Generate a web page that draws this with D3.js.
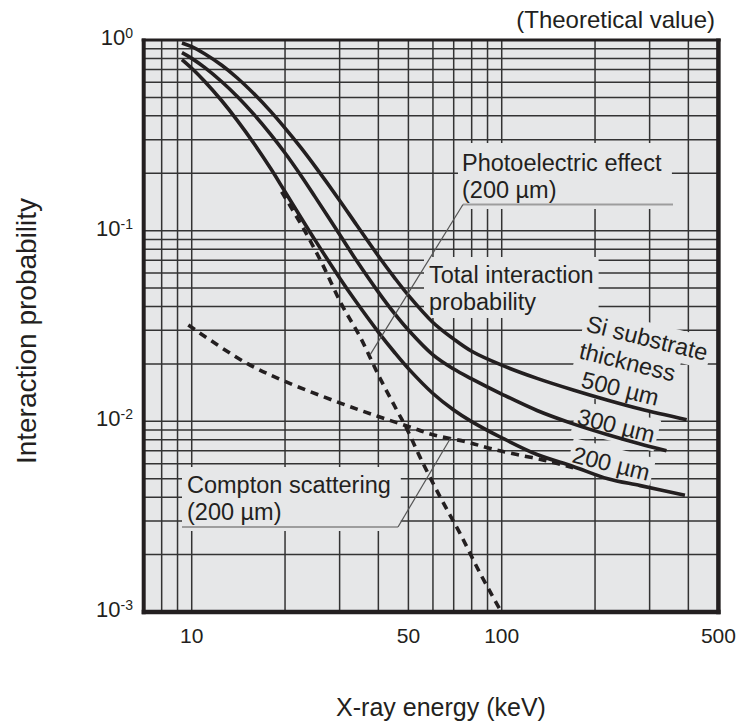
<!DOCTYPE html>
<html><head><meta charset="utf-8">
<script src="https://cdn.jsdelivr.net/npm/d3@7"></script>
<style>
body{margin:0;background:#fff;}
svg text{font-family:"Liberation Sans",Arial,sans-serif;fill:#231f20;}
</style></head><body>
<svg id="c" width="740" height="724"></svg>
<script>
// ---------- data ----------
const energy500 = [9.3, 10, 11, 12.5, 14, 16, 18, 20, 22.5, 25, 30, 34, 40, 45, 50, 60, 70, 80, 100, 130, 170, 220, 280, 395];
const prob500   = [0.965, 0.922, 0.847, 0.737, 0.634, 0.516, 0.421, 0.345, 0.2725, 0.2173, 0.1441, 0.1074, 0.0737, 0.0569, 0.0458, 0.033, 0.0270, 0.0233, 0.0197, 0.0168, 0.0146, 0.0129, 0.0116, 0.0102];
const energy300 = [9.3, 10, 11, 12.5, 14, 16, 18, 20, 22.5, 25, 30, 34, 40, 45, 50, 60, 70, 80, 100, 130, 170, 220, 280, 340];
const prob300   = [0.858, 0.801, 0.718, 0.604, 0.507, 0.401, 0.319, 0.2554, 0.1948, 0.1504, 0.0954, 0.0697, 0.0476, 0.0369, 0.0301, 0.0223, 0.0188, 0.0167, 0.0139, 0.0114, 0.0097, 0.0085, 0.0076, 0.0070];
const energy200 = [9.3, 10, 11, 12.5, 14, 16, 18, 20, 22.5, 25, 30, 34, 40, 45, 50, 60, 70, 80, 100, 130, 170, 220, 280, 390];
const prob200   = [0.79, 0.711, 0.608, 0.480, 0.380, 0.2815, 0.211, 0.160, 0.1173, 0.0892, 0.0565, 0.0421, 0.0294, 0.0231, 0.0189, 0.0140, 0.01147, 0.00997, 0.0082, 0.0067, 0.0058, 0.0050, 0.0046, 0.0041];
const energyPhoto = [19.5, 22.9, 26.3, 30.5, 34.9, 40, 45.8, 49.3, 54.4, 63.2, 73.3, 85.1, 98.7];
const probPhoto   = [0.16, 0.103, 0.0675, 0.0408, 0.0278, 0.0175, 0.0115, 0.0092, 0.00653, 0.00403, 0.00259, 0.0016, 0.00103];
const energyCompton = [9.75, 14.7, 20, 30, 40, 50, 60, 77, 92, 112, 140, 170];
const probCompton   = [0.032, 0.0206, 0.0162, 0.0125, 0.0106, 0.0094, 0.0085, 0.0078, 0.0072, 0.0067, 0.0062, 0.0057];
const xTickLabels = [10, 50, 100, 500];
const yTickExponents = [0, -1, -2, -3];
const thicknessLabels = ["500 µm", "300 µm", "200 µm"];

// ---------- layout ----------
const plot = {left: 143.7, right: 718.4, top: 40, bottom: 612};
const bg = "#e6e7e8", ink = "#231f20", gridColor = "#333333";
const x = d3.scaleLog().domain([7, 500]).range([plot.left, plot.right]);
const y = d3.scaleLog().domain([0.001, 1]).range([plot.bottom, plot.top]);
const svg = d3.select("#c");

const gBg = svg.append("g"), gGrid = svg.append("g"), gMask = svg.append("g"),
      gCurves = svg.append("g"), gText = svg.append("g"), gFrame = svg.append("g");

gBg.append("rect").attr("x", plot.left).attr("y", plot.top)
  .attr("width", plot.right - plot.left).attr("height", plot.bottom - plot.top).attr("fill", bg);

// grid lines from the scales' own ticks
const eps = 1e-9;
x.ticks().filter(v => v > 7 * (1 + eps) && v < 500 * (1 - eps)).forEach(v => {
  gGrid.append("line").attr("x1", x(v)).attr("x2", x(v)).attr("y1", plot.top).attr("y2", plot.bottom)
    .attr("stroke", gridColor).attr("stroke-width", 1.5);
});
y.ticks().filter(v => v > 0.001 * (1 + eps) && v < 1 * (1 - eps)).forEach(v => {
  gGrid.append("line").attr("y1", y(v)).attr("y2", y(v)).attr("x1", plot.left).attr("x2", plot.right)
    .attr("stroke", gridColor).attr("stroke-width", 1.5);
});

// clip
svg.append("defs").append("clipPath").attr("id", "clip").append("rect")
  .attr("x", plot.left).attr("y", plot.top).attr("width", plot.right - plot.left).attr("height", plot.bottom - plot.top);
gCurves.attr("clip-path", "url(#clip)");

const line = d3.line().x(d => x(d[0])).y(d => y(d[1])).curve(d3.curveCatmullRom.alpha(0.5));
function series(es, ps) { return es.map((e, i) => [e, ps[i]]); }

[[energyPhoto, probPhoto], [energyCompton, probCompton]].forEach(([e, p]) => {
  gCurves.append("path").attr("d", line(series(e, p))).attr("fill", "none")
    .attr("stroke", ink).attr("stroke-width", 3.6).attr("stroke-dasharray", "8,6");
});
[[energy500, prob500], [energy300, prob300], [energy200, prob200]].forEach(([e, p]) => {
  gCurves.append("path").attr("d", line(series(e, p))).attr("fill", "none")
    .attr("stroke", ink).attr("stroke-width", 3.6).attr("stroke-linecap", "butt");
});

// ---------- annotations ----------
const noteFS = 23.5;
function note(lines, x0, y0, lh, padL, padR, padT, padB) {
  const g = gText.append("g");
  lines.forEach((t, i) => g.append("text").attr("x", x0).attr("y", y0 + i * lh).attr("font-size", noteFS).text(t));
  const bb = g.node().getBBox();
  gMask.append("rect").attr("x", bb.x - padL).attr("y", bb.y - padT)
    .attr("width", bb.width + padL + padR).attr("height", bb.height + padT + padB).attr("fill", bg);
  return bb;
}
function rotNote(t, x0, y0, ang, pad) {
  const tr = `translate(${x0},${y0}) rotate(${ang})`;
  const g = gText.append("g").attr("transform", tr);
  g.append("text").attr("font-size", noteFS).text(t);
  const bb = g.node().getBBox();
  gMask.append("rect").attr("transform", tr).attr("x", bb.x - pad).attr("y", bb.y - pad)
    .attr("width", bb.width + 2 * pad).attr("height", bb.height + 2 * pad).attr("fill", bg);
}

note(["Photoelectric effect", "(200 µm)"], 462, 171, 27, 4, 10, 7, 6);
note(["Total interaction", "probability"], 429, 283, 27, 5, 5, 5, 3);
note(["Compton scattering", "(200 µm)"], 187, 493, 27, 5, 10, 5, 6);

rotNote("Si substrate", 585, 331, 14, 3);
rotNote("thickness", 578, 358, 14, 3);
rotNote(thicknessLabels[0], 580, 387, 14, 3);
rotNote(thicknessLabels[1], 576, 424, 14, 3);
rotNote(thicknessLabels[2], 571, 462, 14, 3);

// underlines and leader lines
gText.append("line").attr("x1", 463).attr("x2", 673).attr("y1", 204.5).attr("y2", 204.5)
  .attr("stroke", "#9d9d9d").attr("stroke-width", 2);
gText.append("line").attr("x1", 463).attr("y1", 204.5).attr("x2", x(37.6)).attr("y2", y(0.0223))
  .attr("stroke", "#555").attr("stroke-width", 1.2);
gText.append("line").attr("x1", 182).attr("x2", 398).attr("y1", 527).attr("y2", 527)
  .attr("stroke", "#9d9d9d").attr("stroke-width", 2);
gText.append("line").attr("x1", 398).attr("y1", 527).attr("x2", x(68.5)).attr("y2", y(0.0082))
  .attr("stroke", "#555").attr("stroke-width", 1.2);

// ---------- frame ----------
gFrame.append("line").attr("x1", plot.left - 2).attr("x2", plot.right + 2.2).attr("y1", plot.top).attr("y2", plot.top).attr("stroke", ink).attr("stroke-width", 3);
gFrame.append("line").attr("x1", plot.left - 2).attr("x2", plot.right + 2.2).attr("y1", plot.bottom).attr("y2", plot.bottom).attr("stroke", ink).attr("stroke-width", 4.5);
gFrame.append("line").attr("x1", plot.left).attr("x2", plot.left).attr("y1", plot.top - 1.5).attr("y2", plot.bottom + 2.2).attr("stroke", ink).attr("stroke-width", 4);
gFrame.append("line").attr("x1", plot.right).attr("x2", plot.right).attr("y1", plot.top - 1.5).attr("y2", plot.bottom + 2.2).attr("stroke", ink).attr("stroke-width", 4.5);

// ---------- tick labels ----------
xTickLabels.forEach(v => {
  svg.append("text").attr("x", x(v)).attr("y", 643).attr("text-anchor", "middle").attr("font-size", 21).text(v);
});
yTickExponents.forEach(p => {
  const t = svg.append("text").attr("x", 133).attr("y", y(Math.pow(10, p)) + 5).attr("text-anchor", "end").attr("font-size", 22);
  t.append("tspan").text("10");
  t.append("tspan").attr("font-size", 14).attr("dy", -7).text(String(p));
});

// ---------- titles ----------
svg.append("text").attr("x", 441).attr("y", 716).attr("text-anchor", "middle").attr("font-size", 25).text("X-ray energy (keV)");
svg.append("text").attr("transform", "translate(36,331) rotate(-90)").attr("text-anchor", "middle").attr("font-size", 28).text("Interaction probability");
svg.append("text").attr("x", 715).attr("y", 28).attr("text-anchor", "end").attr("font-size", 24).text("(Theoretical value)");
</script>
</body></html>
